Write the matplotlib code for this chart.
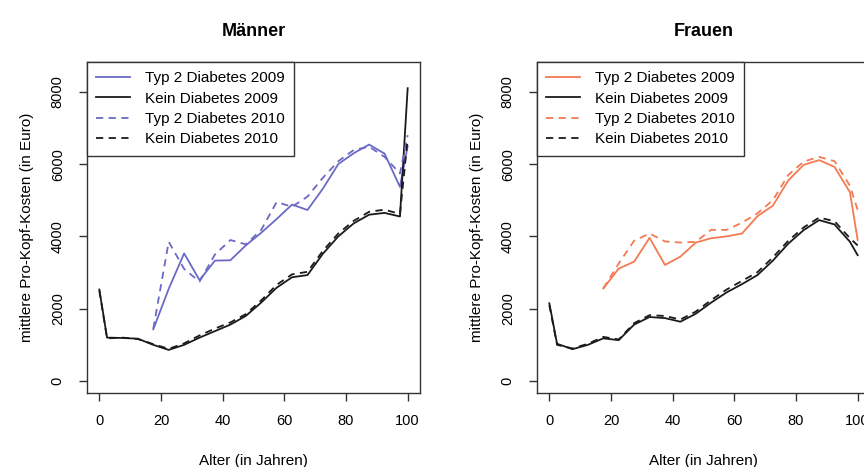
import matplotlib
matplotlib.use("Agg")
import matplotlib.pyplot as plt

plt.rcParams['font.family'] = ['Liberation Sans', 'DejaVu Sans']

# Altersgruppen (Mitte)
ages_kein = [0, 2.5, 7.5, 12.5, 17.5, 22.5, 27.5, 32.5, 37.5, 42.5, 47.5,
             52.5, 57.5, 62.5, 67.5, 72.5, 77.5, 82.5, 87.5, 92.5, 97.5, 100]
ages_typ2 = [17.5, 22.5, 27.5, 32.5, 37.5, 42.5, 47.5, 52.5, 57.5, 62.5,
             67.5, 72.5, 77.5, 82.5, 87.5, 92.5, 97.5, 100]

# Maenner
m_typ2_2009 = [1430, 2550, 3530, 2790, 3330, 3340, 3750, 4100, 4480, 4880,
               4730, 5320, 6000, 6300, 6540, 6290, 5370, 6500]
m_kein_2009 = [2530, 1200, 1190, 1170, 1000, 860, 1000, 1200, 1380, 1560, 1800,
               2170, 2580, 2870, 2930, 3520, 4000, 4360, 4600, 4650, 4550, 8100]
m_typ2_2010 = [1450, 3850, 3100, 2750, 3500, 3900, 3780, 4180, 4950, 4820,
               5100, 5620, 6080, 6390, 6480, 6200, 5740, 6800]
m_kein_2010 = [2500, 1180, 1200, 1160, 1020, 890, 1040, 1260, 1450, 1620, 1850,
               2230, 2660, 2950, 3020, 3600, 4080, 4430, 4680, 4740, 4620, 6700]

# Frauen
f_typ2_2009 = [2560, 3110, 3300, 3960, 3210, 3440, 3830, 3950, 4000, 4080,
               4560, 4850, 5550, 5980, 6110, 5920, 5220, 3900]
f_kein_2009 = [2150, 1030, 880, 1000, 1180, 1130, 1560, 1770, 1740, 1640, 1860,
               2170, 2450, 2680, 2930, 3330, 3800, 4175, 4450, 4330, 3850, 3480]
f_typ2_2010 = [2560, 3250, 3880, 4080, 3860, 3830, 3850, 4180, 4180, 4380,
               4640, 5000, 5700, 6070, 6200, 6080, 5400, 4730]
f_kein_2010 = [2100, 1000, 900, 1030, 1220, 1150, 1600, 1820, 1800, 1700, 1920,
               2240, 2530, 2770, 3010, 3420, 3880, 4250, 4520, 4420, 3950, 3750]

labels = ['Typ 2 Diabetes 2009', 'Kein Diabetes 2009',
          'Typ 2 Diabetes 2010', 'Kein Diabetes 2010']

blue = '#6a6ac6'
orange = '#f47a52'
dash = (0, (4, 3))

fig = plt.figure(figsize=(8.64, 4.67), dpi=100)
ax1 = fig.add_axes([87/864, 1-393/467, 333/864, 331/467])
ax2 = fig.add_axes([537/864, 1-393/467, 333/864, 331/467])

panels = [
    (ax1, 'Männer', blue, m_typ2_2009, m_kein_2009, m_typ2_2010, m_kein_2010),
    (ax2, 'Frauen', orange, f_typ2_2009, f_kein_2009, f_typ2_2010, f_kein_2010),
]

for ax, title, col, t09, k09, t10, k10 in panels:
    ax.plot(ages_typ2, t09, color=col, lw=1.3, label=labels[0])
    ax.plot(ages_kein, k09, color='#1a1a1a', lw=1.3, label=labels[1])
    ax.plot(ages_typ2, t10, color=col, lw=1.3, linestyle=dash, label=labels[2])
    ax.plot(ages_kein, k10, color='#1a1a1a', lw=1.3, linestyle=dash, label=labels[3])

    ax.set_xlim(-4, 104)
    ax.set_ylim(-332, 8824)
    ax.set_xticks([0, 20, 40, 60, 80, 100])
    ax.set_yticks([0, 2000, 4000, 6000, 8000])
    ax.tick_params(direction='out', length=6, width=1, labelsize=10.5, color='#333333')
    ax.tick_params(axis='y', pad=10)
    ax.tick_params(axis='x', pad=9)
    for lab in ax.get_yticklabels():
        lab.set_rotation(90)
        lab.set_va('center')
    for sp in ax.spines.values():
        sp.set_color('#333333')
        sp.set_linewidth(1)

    ax.set_title(title, fontsize=13, fontweight='bold', pad=19)
    ax.set_xlabel('Alter (in Jahren)', fontsize=11, labelpad=19)
    ax.set_ylabel('mittlere Pro-Kopf-Kosten (in Euro)', fontsize=11, labelpad=12)

    leg = ax.legend(loc='upper left', borderaxespad=0, fancybox=False,
                    framealpha=1, edgecolor='#333333', fontsize=11,
                    handlelength=2.2, handletextpad=1.0, labelspacing=0.42,
                    borderpad=0.6)
    leg.get_frame().set_linewidth(1)

fig.savefig('out.png', dpi=100)
